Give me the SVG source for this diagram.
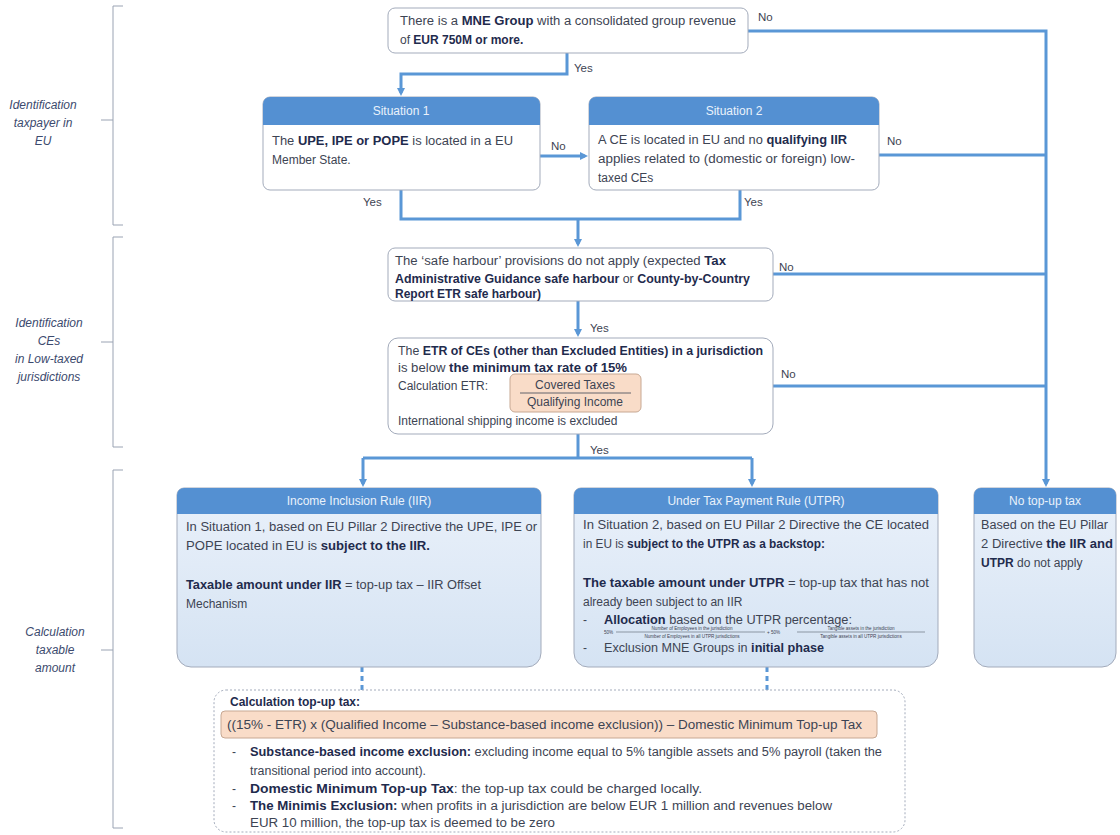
<svg xmlns="http://www.w3.org/2000/svg" width="1120" height="835" viewBox="0 0 1120 835">
<defs>
<style>
text{font-family:"Liberation Sans",Arial,sans-serif;font-size:12px;fill:#3d4453}
.b{font-weight:bold;fill:#1f2b4d}
.hd{fill:#eaf2fb;font-size:12px}
.lab{font-style:italic;fill:#3c4a6e;font-size:12px}
.yn{font-size:11.5px;fill:#3d4453}
.box{fill:#fff;stroke:#a3abbb;stroke-width:1}
.bbox{fill:url(#bg);stroke:#a3abbb;stroke-width:1}
.hdr{fill:#5490d2}
.con{fill:none;stroke:#5a97d6;stroke-width:3}
.dash{fill:none;stroke:#5a97d6;stroke-width:3;stroke-dasharray:5,4}
.br{fill:none;stroke:#9aa3b3;stroke-width:1}
.or{fill:#f9dcc8;stroke:#c7a893;stroke-width:1}
.tiny{font-size:4.6px;fill:#3d4453}
</style>
<linearGradient id="bg" x1="0" y1="0" x2="0" y2="1">
<stop offset="0" stop-color="#eaf1fa"/>
<stop offset="1" stop-color="#d5e3f3"/>
</linearGradient>
<marker id="ar" markerUnits="userSpaceOnUse" markerWidth="10" markerHeight="10" refX="5" refY="5" orient="auto">
<path d="M0,1 L8,5 L0,9 Z" fill="#5a97d6"/>
</marker>
</defs>

<g id="brackets">
<path class="br" d="M123,6 H113 V225 H123 M113,120 H101"/>
<path class="br" d="M123,237 H113 V447 H123 M113,342 H101"/>
<path class="br" d="M123,470 H113 V828 H123 M113,650 H101"/>
<text class="lab" x="43" y="109" text-anchor="middle">Identification</text>
<text class="lab" x="43" y="127" text-anchor="middle">taxpayer in</text>
<text class="lab" x="43" y="145" text-anchor="middle">EU</text>
<text class="lab" x="49" y="327" text-anchor="middle">Identification</text>
<text class="lab" x="49" y="345" text-anchor="middle">CEs</text>
<text class="lab" x="49" y="363" text-anchor="middle">in Low-taxed</text>
<text class="lab" x="49" y="381" text-anchor="middle">jurisdictions</text>
<text class="lab" x="55" y="636" text-anchor="middle">Calculation</text>
<text class="lab" x="55" y="654" text-anchor="middle">taxable</text>
<text class="lab" x="55" y="672" text-anchor="middle">amount</text>
</g>

<g id="connectors">
<path class="con" d="M748,31 H1046 V484" marker-end="url(#ar)"/>
<path class="con" d="M567,53 V74 H401 V93" marker-end="url(#ar)"/>
<path class="con" d="M540,156 H585" marker-end="url(#ar)"/>
<path class="con" d="M879,155 H1046"/>
<path class="con" d="M401,190 V219 H740 V190"/>
<path class="con" d="M578,219 V244" marker-end="url(#ar)"/>
<path class="con" d="M773,274 H1046"/>
<path class="con" d="M578,301 V334" marker-end="url(#ar)"/>
<path class="con" d="M773,386 H1046"/>
<path class="con" d="M578,434 V458"/>
<path class="con" d="M363,458 H752"/>
<path class="con" d="M363,458 V484" marker-end="url(#ar)"/>
<path class="con" d="M752,458 V484" marker-end="url(#ar)"/>
<path class="dash" d="M362,667 V690"/>
<path class="dash" d="M767,667 V690"/>
<text class="yn" x="758" y="21">No</text>
<text class="yn" x="574" y="72">Yes</text>
<text class="yn" x="551" y="150">No</text>
<text class="yn" x="887" y="145">No</text>
<text class="yn" x="363" y="206">Yes</text>
<text class="yn" x="744" y="206">Yes</text>
<text class="yn" x="779" y="271">No</text>
<text class="yn" x="590" y="332">Yes</text>
<text class="yn" x="781" y="378">No</text>
<text class="yn" x="590" y="454">Yes</text>
</g>

<g id="mne">
<rect class="box" x="388" y="8" width="360" height="45" rx="7"/>
<text x="400" y="25" textLength="336" lengthAdjust="spacingAndGlyphs">There is a <tspan class="b">MNE Group</tspan> with a consolidated group revenue</text>
<text x="400" y="44">of <tspan class="b">EUR 750M or more.</tspan></text>
</g>

<g id="situation1">
<rect class="box" x="263" y="97" width="277" height="93" rx="7"/>
<path class="hdr" d="M263,104 a7,7 0 0 1 7,-7 H533 a7,7 0 0 1 7,7 V125 H263 Z"/>
<text class="hd" x="401" y="115" text-anchor="middle">Situation 1</text>
<text x="272" y="145" textLength="241" lengthAdjust="spacingAndGlyphs">The <tspan class="b">UPE, IPE or POPE</tspan> is located in a EU</text>
<text x="272" y="164">Member State.</text>
</g>

<g id="situation2">
<rect class="box" x="589" y="97" width="290" height="93" rx="7"/>
<path class="hdr" d="M589,104 a7,7 0 0 1 7,-7 H872 a7,7 0 0 1 7,7 V125 H589 Z"/>
<text class="hd" x="734" y="115" text-anchor="middle">Situation 2</text>
<text x="598" y="144" textLength="249" lengthAdjust="spacingAndGlyphs">A CE is located in EU and no <tspan class="b">qualifying IIR</tspan></text>
<text x="598" y="163" textLength="257" lengthAdjust="spacingAndGlyphs">applies related to (domestic or foreign) low-</text>
<text x="598" y="182">taxed CEs</text>
</g>

<g id="safeharbour">
<rect class="box" x="388" y="248" width="385" height="53" rx="7"/>
<text x="395" y="265" textLength="331" lengthAdjust="spacingAndGlyphs">The ‘safe harbour’ provisions do not apply (expected <tspan class="b">Tax</tspan></text>
<text x="395" y="283" textLength="355" lengthAdjust="spacingAndGlyphs"><tspan class="b">Administrative Guidance safe harbour</tspan> or <tspan class="b">County-by-Country</tspan></text>
<text x="395" y="298" class="b">Report ETR safe harbour)</text>
</g>

<g id="etr">
<rect class="box" x="388" y="338" width="385" height="96" rx="10"/>
<text x="398" y="355" textLength="365" lengthAdjust="spacingAndGlyphs">The <tspan class="b">ETR of CEs (other than Excluded Entities) in a jurisdiction</tspan></text>
<text x="398" y="372" textLength="229" lengthAdjust="spacingAndGlyphs">is below <tspan class="b">the minimum tax rate of 15%</tspan></text>
<text x="398" y="390">Calculation ETR:</text>
<rect class="or" x="510" y="374" width="131" height="38" rx="5"/>
<text x="575" y="389" text-anchor="middle">Covered Taxes</text>
<line x1="520" y1="393" x2="631" y2="393" stroke="#3d4453" stroke-width="0.8"/>
<text x="575" y="406" text-anchor="middle">Qualifying Income</text>
<text x="398" y="425">International shipping income is excluded</text>
</g>

<g id="iir">
<path class="bbox" d="M177,495 a7,7 0 0 1 7,-7 H534 a7,7 0 0 1 7,7 V653 a14,14 0 0 1 -14,14 H191 a14,14 0 0 1 -14,-14 Z"/>
<path class="hdr" d="M177,495 a7,7 0 0 1 7,-7 H534 a7,7 0 0 1 7,7 V514 H177 Z"/>
<text class="hd" x="359" y="505" text-anchor="middle">Income Inclusion Rule (IIR)</text>
<text x="186" y="531" textLength="351" lengthAdjust="spacingAndGlyphs">In Situation 1, based on EU Pillar 2 Directive the UPE, IPE or</text>
<text x="186" y="550" textLength="244" lengthAdjust="spacingAndGlyphs">POPE located in EU is <tspan class="b">subject to the IIR.</tspan></text>
<text x="186" y="589" textLength="295" lengthAdjust="spacingAndGlyphs"><tspan class="b">Taxable amount under IIR</tspan> = top-up tax – IIR Offset</text>
<text x="186" y="608">Mechanism</text>
</g>

<g id="utpr">
<path class="bbox" d="M574,495 a7,7 0 0 1 7,-7 H931 a7,7 0 0 1 7,7 V653 a14,14 0 0 1 -14,14 H588 a14,14 0 0 1 -14,-14 Z"/>
<path class="hdr" d="M574,495 a7,7 0 0 1 7,-7 H931 a7,7 0 0 1 7,7 V514 H574 Z"/>
<text class="hd" x="756" y="505" text-anchor="middle">Under Tax Payment Rule (UTPR)</text>
<text x="583" y="529" textLength="346" lengthAdjust="spacingAndGlyphs">In Situation 2, based on EU Pillar 2 Directive the CE located</text>
<text x="583" y="548" textLength="242" lengthAdjust="spacingAndGlyphs">in EU is <tspan class="b">subject to the UTPR as a backstop:</tspan></text>
<text x="583" y="587" textLength="346" lengthAdjust="spacingAndGlyphs"><tspan class="b">The taxable amount under UTPR</tspan> = top-up tax that has not</text>
<text x="583" y="606">already been subject to an IIR</text>
<text x="583" y="624">-</text>
<text x="604" y="624" textLength="248" lengthAdjust="spacingAndGlyphs"><tspan class="b">Allocation</tspan> based on the UTPR percentage:</text>
<text class="tiny" x="604" y="634">50%</text>
<text class="tiny" x="692" y="630" text-anchor="middle">Number of Employees in the jurisdiction</text>
<line x1="616" y1="632" x2="765" y2="632" stroke="#3d4453" stroke-width="0.5"/>
<text class="tiny" x="692" y="637.5" text-anchor="middle">Number of Employees in all UTPR jurisdictions</text>
<text class="tiny" x="767" y="634">+ 50%</text>
<text class="tiny" x="861" y="630" text-anchor="middle">Tangible assets in the jurisdiction</text>
<line x1="797" y1="632" x2="925" y2="632" stroke="#3d4453" stroke-width="0.5"/>
<text class="tiny" x="861" y="637.5" text-anchor="middle">Tangible assets in all UTPR jurisdictions</text>
<text x="583" y="652">-</text>
<text x="604" y="652" textLength="220" lengthAdjust="spacingAndGlyphs">Exclusion MNE Groups in <tspan class="b">initial phase</tspan></text>
</g>

<g id="notopup">
<path class="bbox" d="M974,495 a7,7 0 0 1 7,-7 H1109 a7,7 0 0 1 7,7 V653 a14,14 0 0 1 -14,14 H988 a14,14 0 0 1 -14,-14 Z"/>
<path class="hdr" d="M974,495 a7,7 0 0 1 7,-7 H1109 a7,7 0 0 1 7,7 V514 H974 Z"/>
<text class="hd" x="1045" y="505" text-anchor="middle">No top-up tax</text>
<text x="981" y="529" textLength="127" lengthAdjust="spacingAndGlyphs">Based on the EU Pillar</text>
<text x="981" y="548" textLength="132" lengthAdjust="spacingAndGlyphs">2 Directive <tspan class="b">the IIR and</tspan></text>
<text x="981" y="567"><tspan class="b">UTPR</tspan> do not apply</text>
</g>

<g id="calculation">
<rect x="214" y="690" width="691" height="142" rx="12" fill="#fff" stroke="#a3abbb" stroke-width="1" stroke-dasharray="2,2"/>
<text class="b" x="230" y="706">Calculation top-up tax:</text>
<rect class="or" x="221" y="711" width="656" height="27" rx="4"/>
<text x="227" y="729" textLength="635" lengthAdjust="spacingAndGlyphs">((15% - ETR) x (Qualified Income – Substance-based income exclusion)) – Domestic Minimum Top-up Tax</text>
<text x="232" y="756">-</text>
<text x="250" y="756" textLength="632" lengthAdjust="spacingAndGlyphs"><tspan class="b">Substance-based income exclusion:</tspan> excluding income equal to 5% tangible assets and 5% payroll (taken the</text>
<text x="250" y="775" textLength="176" lengthAdjust="spacingAndGlyphs">transitional period into account).</text>
<text x="232" y="793">-</text>
<text x="250" y="793" textLength="452" lengthAdjust="spacingAndGlyphs"><tspan class="b">Domestic Minimum Top-up Tax</tspan>: the top-up tax could be charged locally.</text>
<text x="232" y="810">-</text>
<text x="250" y="810" textLength="582" lengthAdjust="spacingAndGlyphs"><tspan class="b">The Minimis Exclusion:</tspan> when profits in a jurisdiction are below EUR 1 million and revenues below</text>
<text x="250" y="827" textLength="305" lengthAdjust="spacingAndGlyphs">EUR 10 million, the top-up tax is deemed to be zero</text>
</g>
</svg>
